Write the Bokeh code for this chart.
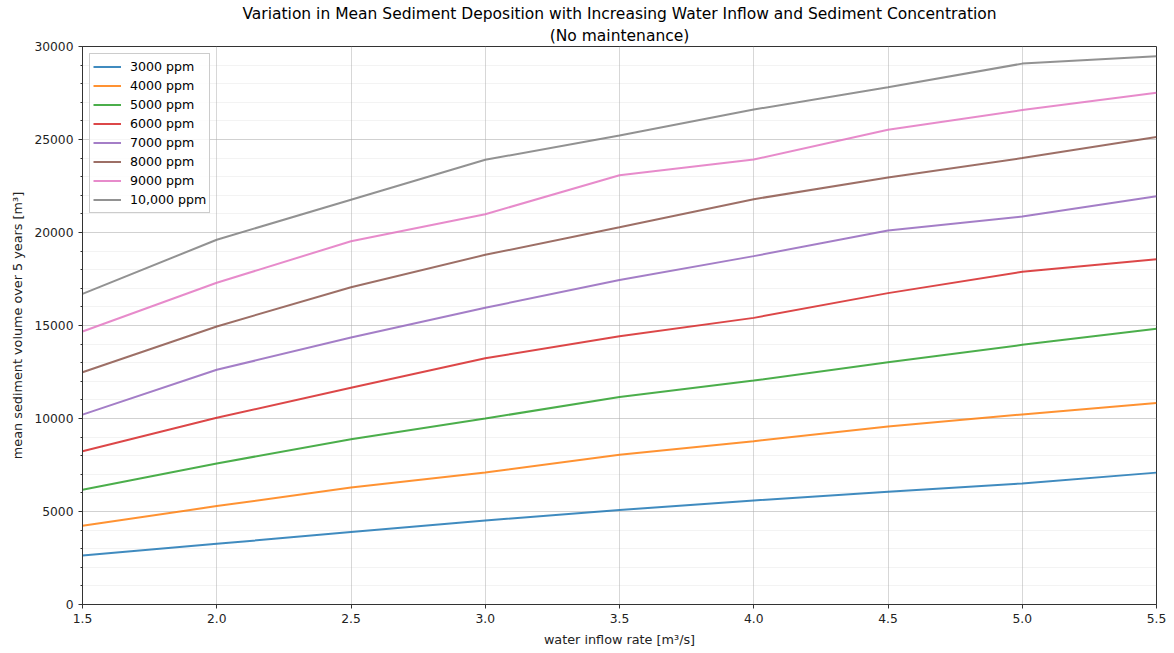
from bokeh.plotting import figure
from bokeh.models import Title, FixedTicker, PrintfTickFormatter, Legend, LegendItem, Range1d
from bokeh.embed import file_html
from bokeh.resources import INLINE

inflow = [1.5, 2.0, 2.5, 3.0, 3.5, 4.0, 4.5, 5.0, 5.5]

s3000 = [2630, 3260, 3900, 4520, 5080, 5590, 6060, 6510, 7090]
s4000 = [4230, 5290, 6290, 7100, 8050, 8780, 9570, 10220, 10830]
s5000 = [6170, 7580, 8890, 10000, 11150, 12040, 13030, 13960, 14830]
s6000 = [8240, 10040, 11650, 13240, 14420, 15410, 16740, 17890, 18560]
s7000 = [10210, 12620, 14350, 15950, 17450, 18730, 20110, 20860, 21950]
s8000 = [12490, 14950, 17060, 18800, 20280, 21790, 22960, 24000, 25130]
s9000 = [14680, 17300, 19530, 20980, 23080, 23920, 25520, 26580, 27510]
s10000 = [16700, 19610, 21760, 23910, 25220, 26610, 27810, 29080, 29480]

labels = ["3000 ppm", "4000 ppm", "5000 ppm", "6000 ppm", "7000 ppm",
          "8000 ppm", "9000 ppm", "10,000 ppm"]
series = [s3000, s4000, s5000, s6000, s7000, s8000, s9000, s10000]
colors = ["#1f77b4", "#ff7f0e", "#2ca02c", "#d62728", "#9467bd",
          "#8c564b", "#e377c2", "#7f7f7f"]

x_ticks = [1.5, 2.0, 2.5, 3.0, 3.5, 4.0, 4.5, 5.0, 5.5]
y_ticks = [0, 5000, 10000, 15000, 20000, 25000, 30000]
y_minor = list(range(0, 30001, 1000))

FONT = "DejaVu Sans"

p = figure(width=1168, height=652, output_backend="svg", toolbar_location=None,
           x_range=Range1d(1.5, 5.5), y_range=Range1d(0, 30000),
           min_border_left=82, min_border_right=12, min_border_top=46,
           min_border_bottom=48)
p.title = None

sub = Title(text="(No maintenance)", align="center", text_font=FONT,
            text_font_size="15.5px", text_font_style="normal", text_color="#000000",
            standoff=4, offset=0)
main = Title(text="Variation in Mean Sediment Deposition with Increasing Water Inflow and Sediment Concentration",
             align="center", text_font=FONT, text_font_size="15.5px",
             text_font_style="normal", text_color="#000000", standoff=0)
p.add_layout(sub, "above")
p.add_layout(main, "above")

items = []
for lab, ys, c in zip(labels, series, colors):
    r = p.line(inflow, ys, line_color=c, line_width=2, line_alpha=0.85)
    items.append(LegendItem(label=lab, renderers=[r]))

legend = Legend(items=items, location="top_left", label_text_font=FONT,
                label_text_font_size="12.6px", label_text_color="#000000",
                glyph_width=28, glyph_height=19, label_height=19, spacing=0,
                label_standoff=9, padding=3, margin=7,
                border_line_color="#cccccc", border_line_alpha=1.0,
                background_fill_alpha=0.8)
p.add_layout(legend, "center")

p.xaxis.ticker = FixedTicker(ticks=x_ticks)
p.xaxis.formatter = PrintfTickFormatter(format="%.1f")
p.yaxis.ticker = FixedTicker(ticks=y_ticks, minor_ticks=y_minor)

for ax in (p.xaxis, p.yaxis):
    ax.axis_line_color = "#333333"
    ax.major_tick_line_color = "#333333"
    ax.minor_tick_line_color = "#333333"
    ax.major_tick_in = 0
    ax.major_tick_out = 4
    ax.minor_tick_in = 0
    ax.minor_tick_out = 2
    ax.major_label_text_font = FONT
    ax.major_label_text_font_size = "12.3px"
    ax.major_label_text_color = "#222222"
    ax.axis_label_text_font = FONT
    ax.axis_label_text_font_size = "12.8px"
    ax.axis_label_text_font_style = "normal"
    ax.axis_label_text_color = "#222222"
    ax.axis_label_standoff = 6
    ax.major_label_standoff = 5

p.xaxis.minor_tick_line_color = None
p.xaxis.axis_label = "water inflow rate [m\u00b3/s]"
p.yaxis.axis_label = "mean sediment volume over 5 years [m\u00b3]"

p.xgrid.grid_line_color = "#b0b0b0"
p.xgrid.grid_line_alpha = 0.5
p.ygrid.grid_line_color = "#b0b0b0"
p.ygrid.grid_line_alpha = 0.5
p.ygrid.minor_grid_line_color = "#b0b0b0"
p.ygrid.minor_grid_line_alpha = 0.15

p.outline_line_color = "#333333"
p.outline_line_alpha = 1.0
p.background_fill_color = "white"
p.border_fill_color = "white"

open("out.html", "w").write(file_html(p, INLINE))
